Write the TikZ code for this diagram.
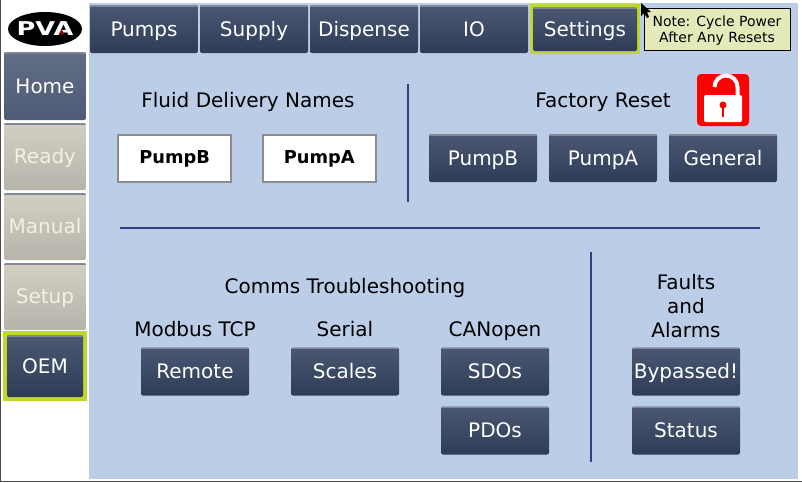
\documentclass[tikz,border=0pt]{standalone}
\usepackage{fontspec}
\setmainfont{DejaVu Sans}
\usepackage{xcolor}
\usetikzlibrary{positioning,shapes.geometric}
\definecolor{panelblue}{HTML}{BCCDE8}
\definecolor{rulenavy}{HTML}{2F4279}
\definecolor{btntop}{HTML}{4C5872}
\definecolor{btnbot}{HTML}{2E3C58}
\definecolor{btnhigh}{HTML}{7F8799}
\definecolor{hometop}{HTML}{616D84}
\definecolor{homebot}{HTML}{4F5B75}
\definecolor{idletop}{HTML}{D2CFC2}
\definecolor{idlebot}{HTML}{B6B4AB}
\definecolor{idletext}{HTML}{F3F0E4}
\definecolor{pickgreen}{HTML}{BFD62F}
\definecolor{notefill}{HTML}{E3E9B9}
\definecolor{framegrey}{HTML}{4A4A4A}

\begin{document}
\begin{tikzpicture}[
  x=1pt, y=-1pt,
  font=\fontsize{20pt}{24pt}\selectfont,
  btn/.style={rounded corners=2pt, top color=btntop, bottom color=btnbot,
              text=white, align=center, inner sep=0pt, text height=18pt, text depth=4pt,
              minimum width=108pt, minimum height=48pt,
              path picture={\draw[btnhigh, line width=1.5pt]
                ([yshift=-1pt]path picture bounding box.north west) --
                ([yshift=-1pt]path picture bounding box.north east);}},
  homebtn/.style={btn, top color=hometop, bottom color=homebot,
                  minimum width=82pt, minimum height=68pt},
  idlebtn/.style={btn, top color=idletop, bottom color=idlebot, text=idletext,
                  minimum width=82pt, minimum height=67pt},
  pick/.style={fill=pickgreen, inner sep=0pt},
  namebox/.style={draw=gray!90, line width=2pt, fill=white, inner sep=0pt,
                  text height=15pt, text depth=4pt,
                  minimum width=113pt, minimum height=47pt,
                  font=\fontsize{17.8pt}{20pt}\selectfont\bfseries},
  heading/.style={text=black, inner sep=0pt, align=center, text height=18pt, text depth=4pt},
  sep/.style={draw=rulenavy, line width=2pt}
]

% ==== page and panel
\useasboundingbox (0,0) rectangle (802,482);
\fill[white] (0,0) rectangle (802,482);
\fill[panelblue] (89,3) rectangle (798,479);
\draw[framegrey, line width=1.5pt] (0.5,0) -- (0.5,481.5) -- (802,481.5);

% ==== logo
\node[ellipse, fill=black, minimum width=74pt, minimum height=34pt, inner sep=0pt] (logo) at (45,29) {};
\node[text=white, inner sep=0pt, xscale=1.35, font=\fontsize{19pt}{20pt}\selectfont\bfseries] (logotxt) at (45,29) {PVA};
\fill[red!60!black] (61.5,29) -- (64,34) -- (59,34) -- cycle;

% ==== top tabs
\foreach \x/\t in {144/Pumps, 254/Supply, 364/Dispense, 474/IO} {
  \node[btn] (tab\t) at (\x,29) {\t};
}
\node[pick, minimum width=110pt, minimum height=50pt] (tabpick) at (585,29) {};
\node[btn, minimum width=104pt, minimum height=44pt] (tabSettings) at (585,29) {Settings};

% ==== note and cursor
\node[draw=black, line width=1pt, fill=notefill, inner sep=0pt,
      minimum width=146pt, minimum height=42pt] (note) at (717,29) {};
\node[text=black, align=center, inner sep=0pt, font=\fontsize{14pt}{16pt}\selectfont] (notetxt) at (717,30.5)
     {Note: Cycle Power\\After Any Resets};
\fill[black] (641,3) -- (641,16) -- (644,13) -- (647,18) -- (649,17) -- (647,12) -- (651,12) -- cycle;

% ==== left column
\node[homebtn] (home) at (45,86) {Home};
\foreach \y/\t in {156.5/Ready, 226.5/Manual, 296.5/Setup} {
  \node[idlebtn] (nav\t) at (45,\y) {\t};
}
\node[pick, minimum width=84pt, minimum height=70pt] (oempick) at (45,366) {};
\node[btn, minimum width=76pt, minimum height=62pt] (oem) at (45,366) {OEM};

% ==== fluid delivery names
\node[heading] (fluid) at (248,100) {Fluid Delivery Names};
\node[namebox] (nameB) at (174.7,158) {PumpB};
\node[namebox] (nameA) at (319.2,158) {PumpA};

% ==== factory reset
\node[heading] (reset) at (603,100) {Factory Reset};
\foreach \x/\t in {483/PumpB, 603/PumpA, 723/General} {
  \node[btn] (rst\t) at (\x,158) {\t};
}

% ==== lock
\node[fill=red, rounded corners=4pt, minimum size=52pt, inner sep=0pt] (lock) at (723,100) {};
\draw[white, line width=4pt] (714.5,87) arc (180:360:11.5) -- (737.5,96);
\fill[white, rounded corners=2pt] (704,95) rectangle (742,122);
\fill[red] (723,105) circle (3.5);
\fill[red] (722,105) rectangle (724,117);

% ==== separators
\coordinate (va) at (408,84);   \coordinate (vb) at (408,202);
\coordinate (ha) at (120,228);  \coordinate (hb) at (760,228);
\coordinate (vc) at (591,252);  \coordinate (vd) at (591,462);
\draw[sep] (va) -- (vb);
\draw[sep] (ha) -- (hb);
\draw[sep] (vc) -- (vd);

% ==== comms troubleshooting
\node[heading] (comms) at (345,286) {Comms Troubleshooting};
\foreach \x/\h/\t in {195/Modbus TCP/Remote, 345/Serial/Scales, 495/CANopen/SDOs} {
  \node[heading] (hd\t) at (\x,329) {\h};
  \node[btn] (cm\t) at (\x,371.5) {\t};
}
\node[btn] (cmPDOs) at (495,430.5) {PDOs};

% ==== faults
\node[text=black, inner sep=0pt, align=center] (faults) at (686,306) {Faults\\and\\Alarms};
\node[btn] (bypass) at (686,371.5) {Bypassed!};
\node[btn] (status) at (686,430.5) {Status};

\end{tikzpicture}
\end{document}
